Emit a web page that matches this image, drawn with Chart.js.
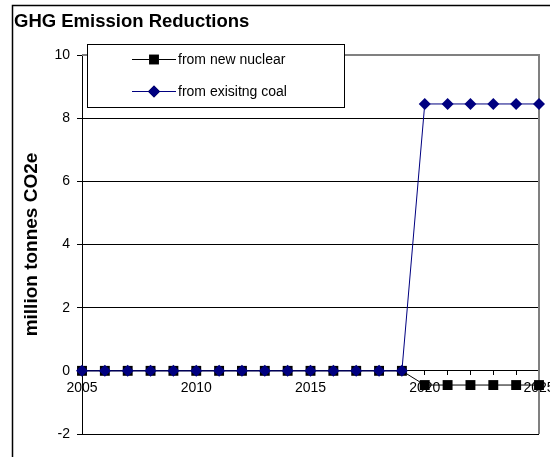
<!DOCTYPE html>
<html>
<head>
<meta charset="utf-8">
<script src="https://cdn.jsdelivr.net/npm/chart.js@4.4.1/dist/chart.umd.min.js"></script>
<style>
  html, body { margin: 0; padding: 0; background: #fff; }
  #wrap { width: 550px; height: 457px; }
</style>
</head>
<body>
<div id="wrap"><canvas id="c" width="550" height="457"></canvas></div>
<script>
// Years on the category axis
const years = [2005, 2006, 2007, 2008, 2009, 2010, 2011, 2012, 2013, 2014,
               2015, 2016, 2017, 2018, 2019, 2020, 2021, 2022, 2023, 2024, 2025];
// Reductions, million tonnes CO2e
const fromNewNuclear = [0, 0, 0, 0, 0, 0, 0, 0, 0, 0, 0, 0, 0, 0, 0,
                        -0.45, -0.45, -0.45, -0.45, -0.45, -0.45];
const fromExistingCoal = [0, 0, 0, 0, 0, 0, 0, 0, 0, 0, 0, 0, 0, 0, 0,
                          8.45, 8.45, 8.45, 8.45, 8.45, 8.45];
const seriesNames = ['from new nuclear', 'from exisitng coal'];
const yMin = -2, yMax = 10, yStep = 2;
const titleText = 'GHG Emission Reductions';
const yAxisTitle = 'million tonnes CO2e';

// Frame, chart title, plot border and the boxed legend
const decorations = {
  id: 'decorations',
  beforeDraw(chart) {
    const ctx = chart.ctx;
    ctx.save();
    ctx.fillStyle = '#fff';
    ctx.fillRect(0, 0, chart.width, chart.height);
    ctx.strokeStyle = '#000';
    ctx.lineWidth = 1.5;
    ctx.strokeRect(12.5, 5.5, 700, 700);
    ctx.fillStyle = '#000';
    ctx.font = 'bold 18.5px Arial, "Liberation Sans", sans-serif';
    ctx.textBaseline = 'alphabetic';
    ctx.textAlign = 'left';
    ctx.fillText(titleText, 14, 27);
    ctx.restore();
  },
  beforeDatasetsDraw(chart) {
    const {ctx, chartArea: a} = chart;
    ctx.save();
    ctx.strokeStyle = '#808080';
    ctx.lineWidth = 2;
    ctx.beginPath();
    ctx.moveTo(a.left, a.top);
    ctx.lineTo(a.right, a.top);
    ctx.lineTo(a.right, a.bottom);
    ctx.stroke();
    ctx.restore();
  },
  afterDraw(chart) {
    const ctx = chart.ctx;
    const box = {x: 87.5, y: 44.5, w: 257, h: 63};
    ctx.save();
    ctx.fillStyle = '#fff';
    ctx.fillRect(box.x, box.y, box.w, box.h);
    ctx.strokeStyle = '#000';
    ctx.lineWidth = 1;
    ctx.strokeRect(box.x, box.y, box.w, box.h);
    const rows = [59, 91];
    chart.data.datasets.forEach((ds, i) => {
      const y = rows[i];
      ctx.strokeStyle = ds.borderColor;
      ctx.lineWidth = 1;
      ctx.beginPath();
      ctx.moveTo(132, y + 0.5);
      ctx.lineTo(176, y + 0.5);
      ctx.stroke();
      Chart.helpers.drawPoint(ctx, {
        pointStyle: ds.pointStyle,
        radius: ds.pointRadius,
        borderWidth: 0
      }, 154, y + 0.5);
      ctx.fillStyle = ds.pointBackgroundColor;
      ctx.fill();
      ctx.fillStyle = '#000';
      ctx.font = '14px Arial, "Liberation Sans", sans-serif';
      ctx.textBaseline = 'middle';
      ctx.textAlign = 'left';
      ctx.fillText(ds.label, 178, y + 1);
    });
    ctx.restore();
  }
};

new Chart(document.getElementById('c'), {
  type: 'line',
  data: {
    labels: years,
    datasets: [
      {
        label: seriesNames[0],
        data: fromNewNuclear,
        borderColor: '#000000',
        backgroundColor: '#000000',
        pointBackgroundColor: '#000000',
        pointBorderColor: '#000000',
        borderWidth: 1,
        pointStyle: 'rect',
        pointRadius: 7,
        pointBorderWidth: 0,
        tension: 0,
        clip: false,
        order: 1
      },
      {
        label: seriesNames[1],
        data: fromExistingCoal,
        borderColor: '#000080',
        backgroundColor: '#000080',
        pointBackgroundColor: '#000080',
        pointBorderColor: '#000080',
        borderWidth: 1,
        pointStyle: 'rectRot',
        pointRadius: 6,
        pointBorderWidth: 0,
        tension: 0,
        clip: false,
        order: 0
      }
    ]
  },
  options: {
    responsive: false,
    devicePixelRatio: 1,
    animation: false,
    events: [],
    layout: { padding: { left: 0, top: 55, right: 11, bottom: 23 } },
    plugins: {
      legend: { display: false },
      title: { display: false },
      tooltip: { enabled: false }
    },
    scales: {
      x: {
        type: 'category',
        offset: false,
        position: { y: 0 },
        grid: { drawOnChartArea: false, drawTicks: true, tickLength: 4, color: '#000', lineWidth: 1 },
        border: { display: true, color: '#000', width: 1 },
        ticks: {
          autoSkip: false,
          maxRotation: 0,
          minRotation: 0,
          padding: 5,
          color: '#000',
          font: { family: 'Arial, "Liberation Sans", sans-serif', size: 14 },
          callback: (v, i) => (years[i] % 5 === 0 ? String(years[i]) : '')
        },
        afterFit(scale) { scale.paddingLeft = 0; scale.paddingRight = 0; }
      },
      y: {
        min: yMin,
        max: yMax,
        grid: { color: '#000', lineWidth: 1, drawTicks: true, tickLength: 5 },
        border: { display: true, color: '#000', width: 1 },
        ticks: {
          stepSize: yStep,
          padding: 7,
          color: '#000',
          font: { family: 'Arial, "Liberation Sans", sans-serif', size: 14 }
        },
        title: {
          display: true,
          text: yAxisTitle,
          color: '#000',
          font: { family: 'Arial, "Liberation Sans", sans-serif', size: 19, weight: 'bold' },
          padding: { top: 20, bottom: 0 }
        },
        afterFit(scale) { scale.width = 82; }
      }
    }
  },
  plugins: [decorations]
});
</script>
</body>
</html>
